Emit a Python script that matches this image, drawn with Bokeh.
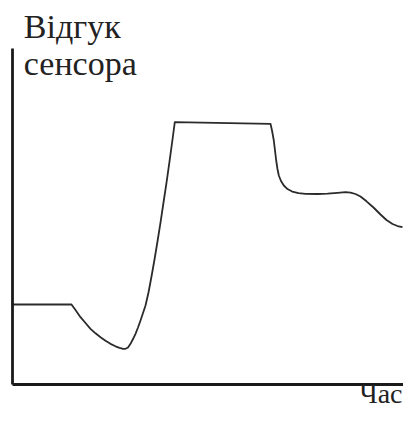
from bokeh.plotting import figure
from bokeh.models import Range1d, Label, FixedTicker
from bokeh.embed import file_html
from bokeh.resources import INLINE

# time (arbitrary units) and sensor response (arbitrary units)
time = [0, 15.09, 16.11, 17.39, 18.67, 19.95, 21.23, 22.51, 23.79, 25.06, 26.34, 27.37,
        28.13, 28.90, 29.54, 30.18, 30.82, 31.46, 32.10, 32.74, 33.38, 34.02, 34.78,
        35.55, 36.32, 37.08, 37.85, 38.62, 39.39, 40.15, 40.92, 41.51,
        65.98, 66.37, 66.83, 67.14, 67.44, 67.77, 68.11, 68.67, 69.39, 70.33, 71.53,
        73.15, 74.94, 78.01, 80.56, 83.12, 85.17, 86.45, 87.72, 89.00, 90.54, 92.33,
        94.12, 95.65, 97.19, 98.47, 99.74]
response = [23.81, 23.81, 22.17, 20.03, 18.30, 16.58, 15.24, 14.08, 13.04, 12.11, 11.37, 10.92,
            10.65, 10.63, 11.01, 12.11, 13.54, 15.09, 16.96, 19.05, 21.28, 23.51, 27.38,
            32.14, 37.20, 42.56, 48.21, 54.17, 60.12, 66.37, 72.92, 78.07,
            77.59, 75.60, 72.62, 69.64, 66.67, 64.14, 62.20, 60.57, 59.23, 58.18, 57.44,
            56.96, 56.76, 56.70, 56.79, 57.05, 57.26, 57.14, 56.70, 55.95, 54.52, 52.68,
            50.60, 48.96, 47.77, 47.17, 46.82]

y_title = ["Відгук", "сенсора"]
x_title = "Час"
axis_start, axis_end = 0, 100

p = figure(width=403, height=412, output_backend="svg", toolbar_location=None,
           x_range=Range1d(-3.07, 100.0), y_range=Range1d(-8.33, 114.29),
           min_border=0)
p.outline_line_color = None
p.background_fill_color = "white"
p.border_fill_color = "white"
p.grid.visible = False
for ax in (p.xaxis[0], p.yaxis[0]):
    ax.fixed_location = 0
    ax.bounds = (axis_start, axis_end)
    ax.ticker = FixedTicker(ticks=[])
    ax.axis_line_width = 2.8
    ax.axis_line_color = "#1a1a1a"
    ax.major_tick_line_color = None
    ax.minor_tick_line_color = None

p.line(time, response, line_color="#2b2b2b", line_width=1.8, line_join="round")

font = "Liberation Serif"
common = dict(text_font=font, text_color="#222222", text_baseline="alphabetic")
p.add_layout(Label(x=2.89, y=106.46, text=y_title[0], text_font_size="34px", **common))
p.add_layout(Label(x=2.89, y=95.5, text=y_title[1], text_font_size="34px", **common))
p.add_layout(Label(x=99.74, y=-2.68, text=x_title, text_align="right",
                   text_font_size="28px", **common))

open("out.html", "w").write(file_html(p, INLINE))
